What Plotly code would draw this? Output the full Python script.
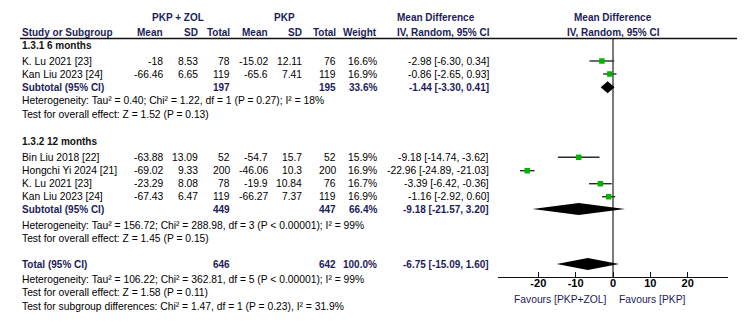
import plotly.graph_objects as go

# ---------------- data ----------------
group_titles = ["1.3.1 6 months", "1.3.2 12 months"]
study_names = ["K. Lu 2021 [23]", "Kan Liu 2023 [24]",
               "Bin Liu 2018 [22]", "Hongchi Yi 2024 [21]", "K. Lu 2021 [23]", "Kan Liu 2023 [24]"]
study_group = [0, 0, 1, 1, 1, 1]
zol_mean = [-18, -66.46, -63.88, -69.02, -23.29, -67.43]
zol_sd = [8.53, 6.65, 13.09, 9.33, 8.08, 6.47]
zol_n = [78, 119, 52, 200, 78, 119]
pkp_mean = [-15.02, -65.6, -54.7, -46.06, -19.9, -66.27]
pkp_sd = [12.11, 7.41, 15.7, 10.3, 10.84, 7.37]
pkp_n = [76, 119, 52, 200, 76, 119]
weight = [16.6, 16.9, 15.9, 16.9, 16.7, 16.9]
md = [-2.98, -0.86, -9.18, -22.96, -3.39, -1.16]
ci_lo = [-6.30, -2.65, -14.74, -24.89, -6.42, -2.92]
ci_hi = [0.34, 0.93, -3.62, -21.03, -0.36, 0.60]

sub_zol_n = [197, 449]
sub_pkp_n = [195, 447]
sub_weight = [33.6, 66.4]
sub_md = [-1.44, -9.18]
sub_lo = [-3.30, -21.57]
sub_hi = [0.41, 3.20]
sub_het = ["Heterogeneity: Tau² = 0.40; Chi² = 1.22, df = 1 (P = 0.27); I² = 18%",
           "Heterogeneity: Tau² = 156.72; Chi² = 288.98, df = 3 (P < 0.00001); I² = 99%"]
sub_test = ["Test for overall effect: Z = 1.52 (P = 0.13)",
            "Test for overall effect: Z = 1.45 (P = 0.15)"]

total_zol_n = 646
total_pkp_n = 642
total_weight = 100.0
total_md = -6.75
total_lo = -15.09
total_hi = 1.60
total_notes = ["Heterogeneity: Tau² = 106.22; Chi² = 362.81, df = 5 (P < 0.00001); I² = 99%",
               "Test for overall effect: Z = 1.58 (P = 0.11)",
               "Test for subgroup differences: Chi² = 1.47, df = 1 (P = 0.23), I² = 31.9%"]

x_ticks = [-20, -10, 0, 10, 20]
favours = ["Favours [PKP+ZOL]", "Favours [PKP]"]

# ---------------- layout positions (pixels) ----------------
W, H = 750, 326
FONT = "Liberation Sans, Arial, sans-serif"
FS = 10.3
FSB = 10
TXT = "#000000"
NAVY = "#1c1c5a"

col_name = 21
col_zm, col_zsd, col_zn = 163.5, 198.5, 231
col_pm, col_psd, col_pn = 269, 302.5, 337
col_w = 378
col_ci = 490
axis_y = 277

group_title_y = [45, 141.5]
study_y = [61, 74, 157.3, 170.7, 183.7, 196.7]
sub_y = [87.3, 209]
sub_het_y = [100.7, 225]
sub_test_y = [114.5, 238.5]
total_y = 264
total_notes_y = [279.3, 292, 306.5]

annotations = []


def txt(x, y, s, anchor="left", bold=False, color=TXT):
    annotations.append(dict(
        x=x, y=y, xref="x", yref="y", text=("<b>%s</b>" % s) if bold else s,
        showarrow=False, xanchor=anchor, yanchor="middle",
        font=dict(family=FONT, size=FSB if bold else FS, color=color), borderpad=0))


def fmt(v):
    return "%g" % v


# headers
txt(178, 17, "PKP + ZOL", "center", True, NAVY)
txt(284, 17, "PKP", "center", True, NAVY)
txt(396, 17, "Mean Difference", "left", True, NAVY)
txt(613, 17, "Mean Difference", "center", True, NAVY)
txt(col_name, 32, "Study or Subgroup", "left", True, NAVY)
txt(col_zm, 32, "Mean", "right", True, NAVY)
txt(col_zsd, 32, "SD", "right", True, NAVY)
txt(col_zn, 32, "Total", "right", True, NAVY)
txt(col_pm, 32, "Mean", "right", True, NAVY)
txt(col_psd, 32, "SD", "right", True, NAVY)
txt(col_pn, 32, "Total", "right", True, NAVY)
txt(col_w, 32, "Weight", "right", True, NAVY)
txt(396, 32, "IV, Random, 95% CI", "left", True, NAVY)
txt(613, 32, "IV, Random, 95% CI", "center", True, NAVY)

for g in range(2):
    txt(col_name, group_title_y[g], group_titles[g], "left", True, "#111111")
    txt(col_name, sub_y[g], "Subtotal (95% CI)", "left", True, NAVY)
    txt(col_zn, sub_y[g], str(sub_zol_n[g]), "right", True, NAVY)
    txt(col_pn, sub_y[g], str(sub_pkp_n[g]), "right", True, NAVY)
    txt(col_w, sub_y[g], "%.1f%%" % sub_weight[g], "right", True, NAVY)
    txt(col_ci, sub_y[g], "%.2f [%.2f, %.2f]" % (sub_md[g], sub_lo[g], sub_hi[g]), "right", True, NAVY)
    txt(col_name, sub_het_y[g], sub_het[g])
    txt(col_name, sub_test_y[g], sub_test[g])

for i in range(len(study_names)):
    y = study_y[i]
    txt(col_name, y, study_names[i])
    txt(col_zm, y, fmt(zol_mean[i]), "right")
    txt(col_zsd, y, fmt(zol_sd[i]), "right")
    txt(col_zn, y, str(zol_n[i]), "right")
    txt(col_pm, y, fmt(pkp_mean[i]), "right")
    txt(col_psd, y, fmt(pkp_sd[i]), "right")
    txt(col_pn, y, str(pkp_n[i]), "right")
    txt(col_w, y, "%.1f%%" % weight[i], "right")
    txt(col_ci, y, "%.2f [%.2f, %.2f]" % (md[i], ci_lo[i], ci_hi[i]), "right")

txt(col_name, total_y, "Total (95% CI)", "left", True, NAVY)
txt(col_zn, total_y, str(total_zol_n), "right", True, NAVY)
txt(col_pn, total_y, str(total_pkp_n), "right", True, NAVY)
txt(col_w, total_y, "%.1f%%" % total_weight, "right", True, NAVY)
txt(col_ci, total_y, "%.2f [%.2f, %.2f]" % (total_md, total_lo, total_hi), "right", True, NAVY)
for s, y in zip(total_notes, total_notes_y):
    txt(col_name, y, s)

fig = go.Figure()

# CI lines
cx, cy = [], []
for lo, hi, y in zip(ci_lo, ci_hi, study_y):
    cx += [lo, hi, None]
    cy += [y, y, None]
fig.add_trace(go.Scatter(x=cx, y=cy, mode="lines", xaxis="x2", yaxis="y2",
                         line=dict(color="#2a2a2a", width=1.4), hoverinfo="skip", showlegend=False))
# zero line
fig.add_trace(go.Scatter(x=[0, 0], y=[38.5, axis_y], mode="lines", xaxis="x2", yaxis="y2",
                         line=dict(color="#333333", width=1.3), hoverinfo="skip", showlegend=False))
# squares
fig.add_trace(go.Scatter(x=md, y=study_y, mode="markers", xaxis="x2", yaxis="y2",
                         marker=dict(symbol="square", size=5.5, color="#00b400", line=dict(width=0)),
                         showlegend=False))
# diamonds
dh = 6
for lo, m, hi, y in list(zip(sub_lo, sub_md, sub_hi, sub_y)) + [(total_lo, total_md, total_hi, total_y)]:
    fig.add_trace(go.Scatter(x=[lo, m, hi, m, lo], y=[y, y - dh, y, y + dh, y], mode="lines",
                             fill="toself", fillcolor="#000000", line=dict(width=0, color="#000000"),
                             xaxis="x2", yaxis="y2", showlegend=False, hoverinfo="skip"))

txt(608, 299, favours[0], "right", False, NAVY)
txt(618, 299, favours[1], "left", False, NAVY)

fig.update_layout(
    width=W, height=H, autosize=False,
    margin=dict(l=0, r=0, t=0, b=0),
    paper_bgcolor="white", plot_bgcolor="rgba(0,0,0,0)",
    annotations=annotations,
    shapes=[dict(type="line", xref="x", yref="y", x0=20, x1=737, y0=38.5, y1=38.5,
                 line=dict(color="#111111", width=1.3))],
    xaxis=dict(domain=[0, 1], range=[0, W], visible=False, fixedrange=True),
    yaxis=dict(domain=[0, 1], range=[H, 0], visible=False, fixedrange=True),
    xaxis2=dict(domain=[498 / W, 728 / W], range=[-30.8, 30.8], anchor="y2",
                showline=True, linecolor="#111111", linewidth=1.3, showgrid=False, zeroline=False,
                ticks="inside", ticklen=5, tickwidth=1.2, tickcolor="#111111",
                tickvals=x_ticks, ticktext=["<b>%d</b>" % t for t in x_ticks],
                ticklabelstandoff=-4,
                tickfont=dict(family=FONT, size=11, color=TXT)),
    yaxis2=dict(domain=[(H - axis_y) / H, 1], range=[axis_y, 0], anchor="x2",
                visible=False, fixedrange=True),
)

fig.write_html("out.html")
